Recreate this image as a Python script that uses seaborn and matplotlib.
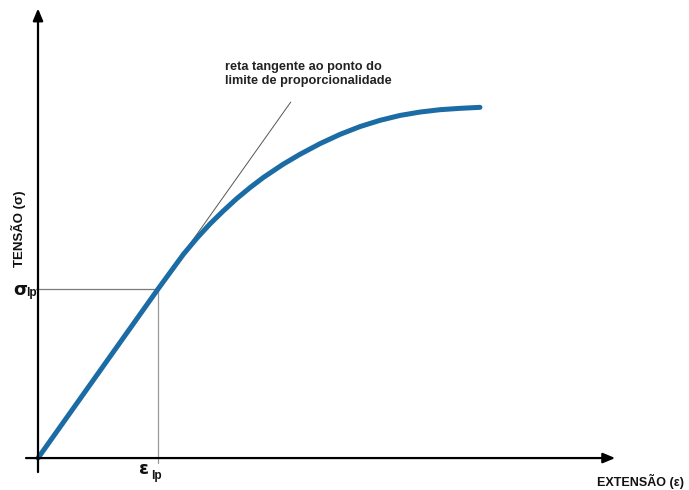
import matplotlib
matplotlib.use("Agg")
import matplotlib.pyplot as plt
import seaborn as sns
import pandas as pd

# ---- data (arbitrary units: strain, stress) ----
strain = [0.0, 1.0, 1.211, 1.323, 1.433, 1.544, 1.656, 1.767, 1.878, 2.042,
          2.183, 2.35, 2.517, 2.683, 2.85, 3.017, 3.183, 3.35, 3.517, 3.683]
stress = [0.0, 1.0, 1.205, 1.300, 1.385, 1.462, 1.535, 1.600, 1.660, 1.738,
          1.797, 1.860, 1.915, 1.961, 1.998, 2.027, 2.047, 2.061, 2.069, 2.075]
eps_lp = 1.0
sig_lp = 1.0
tangent_x = [0.0, 2.106]
tangent_y = [0.0, 2.106]

ylabel = "TENSÃO (σ)"
xlabel = "EXTENSÃO (ε)"
note = "reta tangente ao ponto do\nlimite de proporcionalidade"

sns.set_theme(style="white")
plt.rcParams["font.family"] = ["Liberation Sans", "DejaVu Sans"]

fig = plt.figure(figsize=(6.89, 4.90), dpi=100)
ax = fig.add_axes([0, 0, 1, 1])
ax.set_xlim(-0.3167, 5.425)
ax.set_ylim(-0.189, 2.710)
ax.axis("off")

df = pd.DataFrame({"strain": strain, "stress": stress})

# guide lines
ax.plot([-0.02, eps_lp], [sig_lp, sig_lp], color="#7a7a7a", lw=0.9, zorder=1)
ax.plot([eps_lp, eps_lp], [sig_lp, -0.03], color="#9a9a9a", lw=0.9, zorder=1)

# tangent line
sns.lineplot(x=tangent_x, y=tangent_y, ax=ax, color="#555555", lw=0.7,
             zorder=2, legend=False)

# curve
sns.lineplot(data=df, x="strain", y="stress", ax=ax, color="#1b6ba5",
             lw=3.6, zorder=3, sort=False, legend=False)

# axes arrows
arrow = dict(arrowstyle="-|>,head_length=0.6,head_width=0.25", lw=1.6,
             color="black", shrinkA=0, shrinkB=0, mutation_scale=12)
ax.annotate("", xy=(0, 2.66), xytext=(0, -0.083), arrowprops=arrow, zorder=4)
ax.annotate("", xy=(4.81, 0), xytext=(-0.1, 0), arrowprops=arrow, zorder=4)
ax.set_xlabel("")
ax.set_ylabel("")

# labels
ax.text(-0.163, 1.355, ylabel, rotation=90, ha="center", va="center",
        fontsize=9.5, fontweight="bold", color="#111111")
ax.text(4.658, -0.136, xlabel, ha="left", va="center",
        fontsize=9, fontweight="bold", color="#111111")
ax.text(1.558, 2.35, note, ha="left", va="top", fontsize=9.2,
        fontweight="bold", color="#222222", linespacing=1.2)

greek = ["DejaVu Sans"]
# sigma_lp
ax.annotate("σ", xy=(0, sig_lp), xytext=(-17.5, -0.6), textcoords="offset points",
            ha="left", va="center", fontsize=13, fontweight="bold",
            family=greek, color="#111111")
ax.annotate("lp", xy=(0, sig_lp), xytext=(-8.5, -3.2), textcoords="offset points",
            ha="left", va="center", fontsize=8.5, fontweight="bold", color="#111111")
# eps_lp
ax.annotate("ε", xy=(eps_lp, 0), xytext=(-14.0, -8.0), textcoords="offset points",
            ha="left", va="center", fontsize=13, fontweight="bold",
            family=greek, color="#111111")
ax.annotate("lp", xy=(eps_lp, 0), xytext=(-5.0, -13.0), textcoords="offset points",
            ha="left", va="center", fontsize=8.5, fontweight="bold", color="#111111")

fig.savefig("out.png", dpi=100)
